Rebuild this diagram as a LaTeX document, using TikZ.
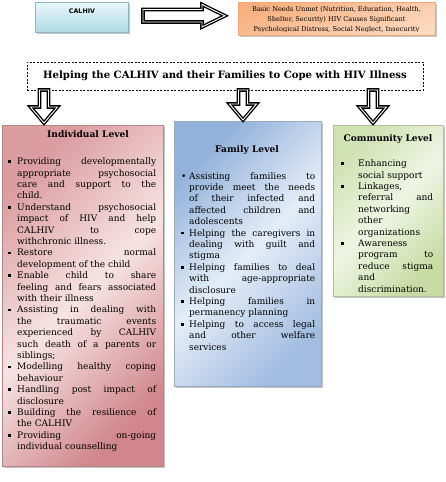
\documentclass[tikz,border=0pt]{standalone}
\usepackage{fontspec}
\setmainfont{DejaVu Serif}
\setsansfont{DejaVu Sans}
\usetikzlibrary{shadows,calc}
\definecolor{indDark}{HTML}{D0868A}
\definecolor{indDarkB}{HTML}{DB9DA0}
\definecolor{indLight}{HTML}{F7E3E3}
\definecolor{famDark}{HTML}{A3BDE1}
\definecolor{famDarkB}{HTML}{92B1DB}
\definecolor{famLight}{HTML}{E4EDF7}
\definecolor{comDark}{HTML}{C8DBA4}
\definecolor{comDarkB}{HTML}{D0E1B2}
\definecolor{comLight}{HTML}{EFF5E3}
\definecolor{cyanTop}{HTML}{E8F7FA}
\definecolor{cyanBot}{HTML}{AEDAE4}
\definecolor{cyanLine}{HTML}{8DB7C2}
\definecolor{orA}{HTML}{F8B080}
\definecolor{orB}{HTML}{FCD8BE}
\definecolor{orLine}{HTML}{F2A978}
\newcommand\sqb{\rule[1.7pt]{2.5pt}{2.5pt}}
\newlength\lm
\newcommand\itm[1][\sqb]{\par\noindent\hangindent=\lm\relax\hangafter=1\relax\makebox[\lm][l]{#1}\ignorespaces}
\newcommand\nopen{\hyphenpenalty=10000\relax\tolerance=10000\relax}
\newcommand\dnarrow[3]{%
  \draw[blockarrow] (#1-4.5,#2) -- (#1+4.5,#2) -- (#1+4.5,#3-16) -- (#1+13.5,#3-16)
   -- (#1,#3) -- (#1-13.5,#3-16) -- (#1-4.5,#3-16) -- cycle;}
\begin{document}
\begin{tikzpicture}[x=1pt,y=-1pt,
  lvlbox/.style={draw=#1, line width=0.5pt, inner sep=0pt, anchor=north west,
     drop shadow={shadow xshift=1.8pt, shadow yshift=-1.8pt, fill=black!45}},
  bodytext/.style={inner sep=0pt, anchor=north west, align=justify,
     font=\fontsize{9}{11.4}\selectfont},
  lvltitle/.style={inner sep=0pt, font=\bfseries\fontsize{9.1}{11}\selectfont},
  blockarrow/.style={fill=white, draw=black, line width=1.35pt, double=white, double distance=0.9pt, line join=miter}]
\useasboundingbox (0,0) rectangle (446,482);
% top row
\node[lvlbox=cyanLine, top color=cyanTop, bottom color=cyanBot,
  minimum width=93pt, minimum height=30pt] (calhiv) at (35,2) {};
\node[inner sep=0pt, font=\sffamily\bfseries\fontsize{6.3}{7}\selectfont] (calhivt) at (82,11) {CALHIV};
\node[lvlbox=orLine, left color=orA, right color=orB, shading angle=20,
  minimum width=197pt, minimum height=33pt] (needs) at (238,2) {};
\begin{scope}
\clip (needs.north west) rectangle ($(needs.south east)+(0,-4)$);
\node[inner sep=0pt, align=center, font=\fontsize{6.6}{10.2}\selectfont, anchor=north] (needst) at (336.5,6)
 {Basic Needs Unmet (Nutrition, Education, Health,\\ Shelter, Security) HIV Causes Significant\\ Psychological Distress, Social Neglect, Insecurity};
\end{scope}
% big right arrow
\draw[blockarrow] (143,9.5) -- (202,9.5) -- (202,4.5) -- (225,15.8) -- (202,27) -- (202,22) -- (143,22) -- cycle;
% dashed title
\node[draw, dash pattern=on 2pt off 1.5pt, line width=0.8pt, minimum width=396pt, minimum height=28pt,
  inner sep=0pt, anchor=north west] (help) at (27,62) {};
\node[inner sep=0pt, font=\bfseries\fontsize{10.1}{12}\selectfont] (helpt) at (225,76) {Helping the CALHIV and their Families to Cope with HIV Illness};
% level boxes
\node[lvlbox=indDark!70!gray, left color=indDarkB, right color=indDark, middle color=indLight, shading angle=45,
  minimum width=161pt, minimum height=341pt] (ind) at (2,125) {};
\node[lvlbox=famDark!70!gray, left color=famDarkB, right color=famDark, middle color=famLight, shading angle=45,
  minimum width=147pt, minimum height=265pt] (fam) at (174,121) {};
\node[lvlbox=comDark!70!gray, left color=comDarkB, right color=comDark, middle color=comLight, shading angle=45,
  minimum width=110pt, minimum height=171pt] (com) at (333,125) {};
% down arrows
\dnarrow{44}{90}{123}
\dnarrow{243}{90}{120}
\dnarrow{373}{90}{123}
% titles
\node[lvltitle] (indt) at (88,134) {Individual Level};
\node[lvltitle] (famt) at (247,150) {Family Level};
\node[lvltitle] (comt) at (388,139) {Community Level};
% individual text
\node[bodytext, text width=148pt] (indx) at (8,153) {\nopen\setlength\lm{9pt}%
\itm Providing developmentally\linebreak appropriate psychosocial\linebreak care and support to the\linebreak child.
\itm Understand psychosocial\linebreak impact of HIV and help\linebreak CALHIV to cope\linebreak withchronic illness.
\itm Restore normal\linebreak development of the child
\itm Enable child to share\linebreak feeling and fears associated\linebreak with their illness
\itm Assisting in dealing with\linebreak the traumatic events\linebreak experienced by CALHIV\linebreak such death of a parents or\linebreak siblings;
\itm Modelling healthy coping\linebreak behaviour
\itm Handling post impact of\linebreak disclosure
\itm Building the resilience of\linebreak the CALHIV
\itm Providing on-going\linebreak individual counselling\par};
% family text
\node[bodytext, text width=134pt] (famx) at (181,167.5) {\nopen\setlength\lm{8pt}%
\itm[\textbullet] Assisting families to\linebreak provide meet the needs\linebreak of their infected and\linebreak affected children and\linebreak adolescents
\itm Helping the caregivers in\linebreak dealing with guilt and\linebreak stigma
\itm Helping families to deal\linebreak with age-appropriate\linebreak disclosure
\itm Helping families in\linebreak permanency planning
\itm Helping to access legal\linebreak and other welfare\linebreak services\par};
% community text
\node[bodytext, text width=92pt] (comx) at (341,155) {\nopen\setlength\lm{17pt}%
\itm Enhancing\linebreak social support
\itm Linkages,\linebreak referral and\linebreak networking\linebreak other\linebreak organizations
\itm Awareness\linebreak program to\linebreak reduce stigma\linebreak and\linebreak discrimination.\par};
\end{tikzpicture}
\end{document}
